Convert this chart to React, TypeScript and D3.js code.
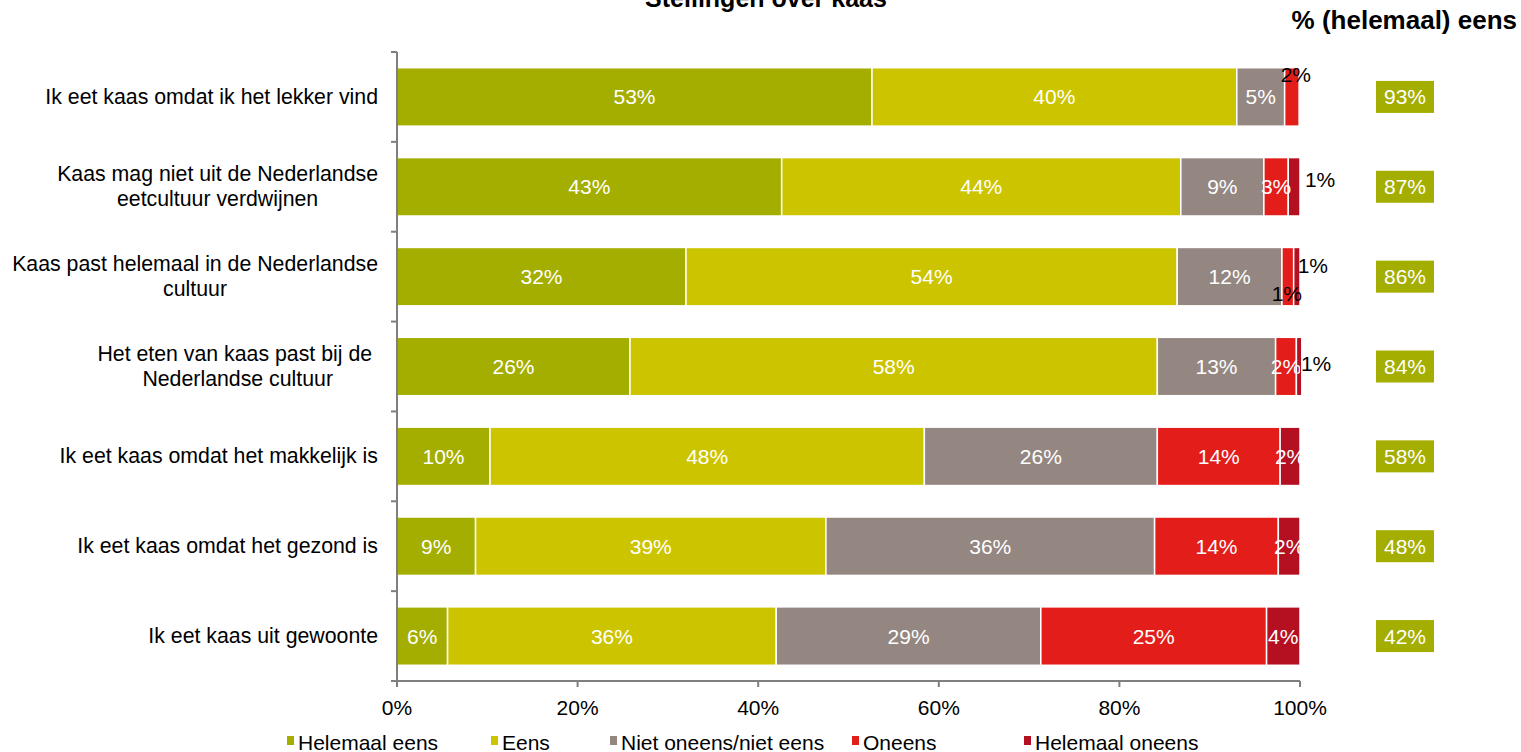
import { useEffect, useRef } from 'react';
import * as d3 from 'd3';

const categories: string[][] = [
  ['Ik eet kaas omdat ik het lekker vind'],
  ['Kaas mag niet uit de Nederlandse', 'eetcultuur verdwijnen'],
  ['Kaas past helemaal in de Nederlandse', 'cultuur'],
  ['Het eten van kaas past bij de ', 'Nederlandse cultuur'],
  ['Ik eet kaas omdat het makkelijk is'],
  ['Ik eet kaas omdat het gezond is'],
  ['Ik eet kaas uit gewoonte'],
];

const seriesNames = ['Helemaal eens', 'Eens', 'Niet oneens/niet eens', 'Oneens', 'Helemaal oneens'];
const seriesColors = ['#a4ae00', '#cdc400', '#948781', '#e31d1a', '#b50f22'];

const helemaalEens = [52.6, 42.6, 32.0, 25.8, 10.3, 8.7, 5.6];
const eens = [40.4, 44.2, 54.4, 58.4, 48.1, 38.8, 36.4];
const neutraal = [5.3, 9.2, 11.6, 13.1, 25.8, 36.4, 29.3];
const oneens = [1.6, 2.7, 1.3, 2.3, 13.6, 13.7, 25.0];
const helemaalOneens = [0, 1.3, 0.7, 0.6, 2.2, 2.4, 3.7];

const totaalEens = [93, 87, 86, 84, 58, 48, 42];
const xTicks = [0, 20, 40, 60, 80, 100];

// labels that Excel pushed outside the bar (row-series -> offset)
const labelOverrides: Record<string, { dx: number; dy: number }> = {
  '0-3': { dx: 4, dy: -22 },
  '1-4': { dx: 26, dy: -7 },
  '2-4': { dx: 16, dy: -11 },
  '2-3': { dx: -1, dy: 17 },
  '3-4': { dx: 17, dy: -3 },
};

const FONT = '"Liberation Sans", Arial, sans-serif';

export default function App() {
  const svgRef = useRef<SVGSVGElement>(null);

  useEffect(() => {
    if (!svgRef.current) return;
    const svg = d3.select(svgRef.current);
    svg.selectAll('*').remove();

    const left = 397;
    const right = 1300;
    const top = 52;
    const bottom = 681;
    const axisColor = '#7f7f7f';

    const x = d3.scaleLinear().domain([0, 100]).range([left, right]);
    const y = d3
      .scaleBand<number>()
      .domain(d3.range(categories.length))
      .range([top, bottom])
      .padding(0);
    const barH = y.bandwidth() * 0.65;

    const series = [helemaalEens, eens, neutraal, oneens, helemaalOneens];
    const rows = categories.map((_c, i) => {
      let acc = 0;
      return series.map((s, k) => {
        const x0 = acc;
        acc += s[i];
        return { row: i, k, x0, x1: acc, v: s[i] };
      });
    });

    svg
      .append('defs')
      .append('clipPath')
      .attr('id', 'plotclip')
      .append('rect')
      .attr('x', left)
      .attr('y', top)
      .attr('width', right - left)
      .attr('height', bottom - top);

    // title (cut at the top edge, as in the original)
    svg
      .append('text')
      .attr('x', 766)
      .attr('y', 7)
      .attr('text-anchor', 'middle')
      .attr('font-family', FONT)
      .attr('font-weight', 'bold')
      .attr('font-size', 25)
      .text('Stellingen over kaas');

    svg
      .append('text')
      .attr('x', 1517)
      .attr('y', 29)
      .attr('text-anchor', 'end')
      .attr('font-family', FONT)
      .attr('font-weight', 'bold')
      .attr('font-size', 26)
      .text('% (helemaal) eens');

    // bars
    const g = svg.append('g');
    rows.forEach((segs) => {
      segs.forEach((d) => {
        if (d.v <= 0) return;
        const cy = (y(d.row) ?? 0) + y.bandwidth() / 2;
        g.append('rect')
          .attr('x', x(d.x0))
          .attr('y', cy - barH / 2)
          .attr('width', x(d.x1) - x(d.x0))
          .attr('height', barH)
          .attr('fill', seriesColors[d.k])
          .attr('stroke', '#ffffff')
          .attr('stroke-width', 1.5);
      });
    });

    // data labels
    const inside = svg.append('g').attr('clip-path', 'url(#plotclip)');
    const outside = svg.append('g');
    rows.forEach((segs) => {
      segs.forEach((d) => {
        if (d.v <= 0) return;
        const cy = (y(d.row) ?? 0) + y.bandwidth() / 2;
        const cx = (x(d.x0) + x(d.x1)) / 2;
        const ov = labelOverrides[`${d.row}-${d.k}`];
        const target = ov ? outside : inside;
        target
          .append('text')
          .attr('x', cx + (ov ? ov.dx : 0))
          .attr('y', cy + (ov ? ov.dy : 0))
          .attr('text-anchor', 'middle')
          .attr('dominant-baseline', 'central')
          .attr('font-family', FONT)
          .attr('font-size', 21)
          .attr('fill', ov ? '#000000' : '#ffffff')
          .text(`${d3.format('.0f')(d.v)}%`);
      });
    });

    // right column totals
    totaalEens.forEach((v, i) => {
      const cy = (y(i) ?? 0) + y.bandwidth() / 2;
      svg
        .append('rect')
        .attr('x', 1376)
        .attr('y', cy - 16)
        .attr('width', 58)
        .attr('height', 32)
        .attr('fill', seriesColors[0]);
      svg
        .append('text')
        .attr('x', 1405)
        .attr('y', cy)
        .attr('text-anchor', 'middle')
        .attr('dominant-baseline', 'central')
        .attr('font-family', FONT)
        .attr('font-size', 21)
        .attr('fill', '#ffffff')
        .text(`${v}%`);
    });

    // axes
    const ax = svg.append('g').attr('stroke', axisColor).attr('stroke-width', 2);
    ax.append('line').attr('x1', left).attr('x2', left).attr('y1', top).attr('y2', bottom);
    ax.append('line').attr('x1', left).attr('x2', right).attr('y1', bottom).attr('y2', bottom);
    d3.range(categories.length + 1).forEach((i) => {
      const yy = i < categories.length ? (y(i) ?? 0) : bottom;
      ax.append('line').attr('x1', left - 6).attr('x2', left).attr('y1', yy).attr('y2', yy);
    });
    xTicks.forEach((t) => {
      ax.append('line').attr('x1', x(t)).attr('x2', x(t)).attr('y1', bottom).attr('y2', bottom + 6);
      svg
        .append('text')
        .attr('x', x(t))
        .attr('y', 715)
        .attr('text-anchor', 'middle')
        .attr('font-family', FONT)
        .attr('font-size', 21)
        .text(`${t}%`);
    });

    // category labels
    categories.forEach((lines, i) => {
      const cy = (y(i) ?? 0) + y.bandwidth() / 2;
      const t = svg
        .append('text')
        .attr('font-family', FONT)
        .attr('font-size', 21.3)
        .attr('text-anchor', 'middle')
        .attr('dominant-baseline', 'central')
        .style('white-space', 'pre');
      const spans = lines.map((line, j) =>
        t
          .append('tspan')
          .attr('y', cy + (j - (lines.length - 1) / 2) * 25)
          .text(line),
      );
      const maxW = d3.max(spans, (s) => (s.node() as SVGTSpanElement).getComputedTextLength()) ?? 0;
      spans.forEach((s) => s.attr('x', 378 - maxW / 2));
    });

    // legend
    const legendX = [287, 491, 610, 852, 1024];
    seriesNames.forEach((name, k) => {
      const lg = svg.append('g').attr('transform', `translate(${legendX[k]},736)`);
      lg.append('rect').attr('width', 7).attr('height', 9).attr('fill', seriesColors[k]);
      lg.append('text')
        .attr('x', 11)
        .attr('y', 14)
        .attr('font-family', FONT)
        .attr('font-size', 21)
        .text(name);
    });
  }, []);

  return (
    <svg
      ref={svgRef}
      width={1521}
      height={752}
      style={{ position: 'absolute', left: 0, top: 0, background: '#ffffff' }}
    />
  );
}
